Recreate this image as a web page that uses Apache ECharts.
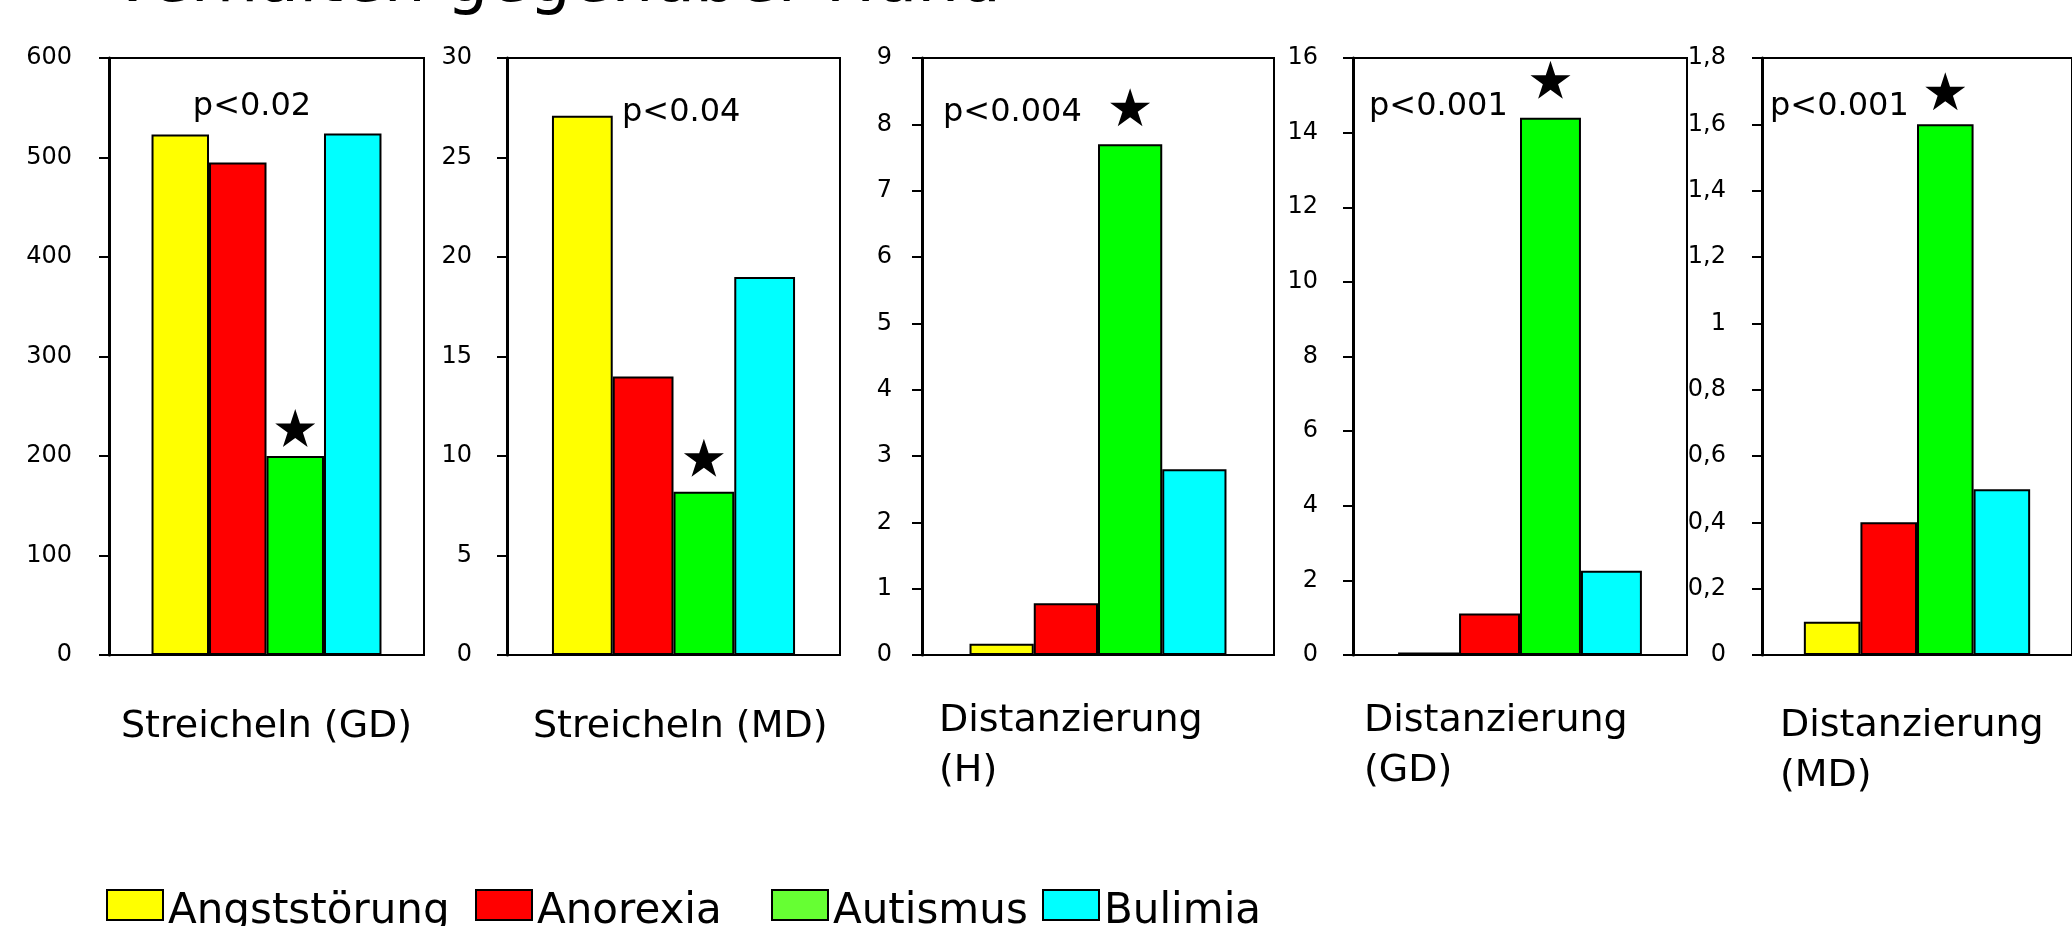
<!DOCTYPE html>
<html>
<head>
<meta charset="utf-8">
<script src="https://cdn.jsdelivr.net/npm/echarts@6/dist/echarts.min.js"></script>
<style>
html,body{margin:0;padding:0;background:#fff;}
#chart{width:2072px;height:926px;}
</style>
</head>
<body>
<div id="chart"></div>
<script>
// ---- data ----
const chartTitle = 'Verhalten gegenüber Hund';
const categories = ['Streicheln (GD)', 'Streicheln (MD)', 'Distanzierung\n(H)', 'Distanzierung\n(GD)', 'Distanzierung\n(MD)'];
const groups = ['Angststörung', 'Anorexia', 'Autismus', 'Bulimia'];
const angststoerung = [523, 27.1, 0.17, 0.07, 0.1];
const anorexia = [495, 14, 0.78, 1.11, 0.4];
const autismus = [200, 8.2, 7.7, 14.4, 1.6];
const bulimia = [524, 19, 2.8, 2.26, 0.5];
const yMax = [600, 30, 9, 16, 1.8];
const yStep = [100, 5, 1, 2, 0.2];
const pValues = ['p<0.02', 'p<0.04', 'p<0.004', 'p<0.001', 'p<0.001'];
const decimalComma = [false, false, false, false, true];

// ---- styles / layout ----
const FONT = 'DejaVu Sans';
const barColors = ['#FFFF00', '#FF0000', '#00FF00', '#00FFFF'];
const legendColors = ['#FFFF00', '#FF0000', '#66FF33', '#00FFFF'];
const legendLeft = [106, 475, 771, 1042];
const panels = [
  {left: 109, width: 315, margin: 37, labelX: 121, labelTop: 702, pX: 252, pAlign: 'center', pY: 107, star: 28},
  {left: 507, width: 333, margin: 35, labelX: 533, labelTop: 702, pX: 622, pAlign: 'left', pY: 113, star: 34},
  {left: 922, width: 352, margin: 30, labelX: 939, labelTop: 696, pX: 943, pAlign: 'left', pY: 113, star: 37},
  {left: 1353, width: 334, margin: 35, labelX: 1364, labelTop: 696, pX: 1369, pAlign: 'left', pY: 107, star: 38},
  {left: 1762, width: 324, margin: 36, labelX: 1780, labelTop: 701, pX: 1770, pAlign: 'left', pY: 107, star: 33}
];
const starPath = 'path://M100 0 L122.45 69.1 L195.1 69.1 L136.3 111.8 L158.8 180.9 L100 138.2 L41.2 180.9 L63.7 111.8 L4.9 69.1 L77.55 69.1 Z';
const seriesValues = [angststoerung, anorexia, autismus, bulimia];

const grids = [], xAxes = [], yAxes = [], series = [], graphics = [];
panels.forEach((p, i) => {
  grids.push({left: p.left, width: p.width, top: 58, height: 597, show: true,
    borderColor: '#000', borderWidth: 2, backgroundColor: 'transparent', containLabel: false});
  xAxes.push({type: 'category', gridIndex: i, data: [categories[i]],
    axisLine: {lineStyle: {color: '#000', width: 2}}, axisTick: {show: false},
    axisLabel: {show: false}, splitLine: {show: false}});
  yAxes.push({type: 'value', gridIndex: i, min: 0, max: yMax[i], interval: yStep[i],
    axisLine: {show: true, lineStyle: {color: '#000', width: 3}},
    axisTick: {show: true, length: 10, lineStyle: {color: '#000', width: 2}},
    splitLine: {show: false},
    axisLabel: {margin: p.margin, color: '#000', fontSize: 24, fontFamily: FONT, padding: [7, 0, 0, 0],
      formatter: v => {
        const s = String(Math.round(v * 1000) / 1000);
        return decimalComma[i] ? s.replace('.', ',') : s;
      }}});
  groups.forEach((g, k) => {
    const s = {
      type: 'bar', name: g, xAxisIndex: i, yAxisIndex: i,
      data: [seriesValues[k][i]],
      barGap: '0%', barCategoryGap: '27%',
      itemStyle: {color: barColors[k], borderColor: '#000', borderWidth: 2},
      emphasis: {disabled: true}
    };
    if (k === 2) {
      s.markPoint = {
        symbol: starPath, symbolSize: [40, 38], symbolOffset: [0, -p.star],
        itemStyle: {color: '#000'}, label: {show: false}, silent: true,
        data: [{coord: [0, seriesValues[k][i]]}]
      };
    }
    series.push(s);
  });
  graphics.push({type: 'text', left: p.labelX, top: p.labelTop, silent: true,
    style: {text: categories[i], font: '38px "' + FONT + '"', fill: '#000', lineHeight: 50}});
  graphics.push({type: 'text', x: p.pX, y: p.pY, silent: true,
    style: {text: pValues[i], font: '32px "' + FONT + '"', fill: '#000', align: p.pAlign, verticalAlign: 'middle'}});
});
graphics.push({type: 'text', x: 110, y: -16, silent: true,
  style: {text: chartTitle, font: '66px "' + FONT + '"', fill: '#000', align: 'left', verticalAlign: 'middle'}});

const legends = groups.map((g, k) => ({
  left: legendLeft[k], top: 877, itemWidth: 56, itemHeight: 30, itemGap: 0, padding: 0,
  icon: 'rect', selectedMode: false,
  data: [{name: g, itemStyle: {color: legendColors[k], borderColor: '#000', borderWidth: 2}}],
  formatter: '{t|{name}}',
  textStyle: {fontSize: 42, fontFamily: FONT, color: '#000',
    rich: {t: {fontSize: 42, fontFamily: FONT, color: '#000', lineHeight: 30, padding: [14, 0, 0, 0]}}}
}));

const chart = echarts.init(document.getElementById('chart'));
chart.setOption({
  animation: false,
  backgroundColor: '#fff',
  textStyle: {fontFamily: FONT},
  grid: grids, xAxis: xAxes, yAxis: yAxes, series: series,
  legend: legends, graphic: graphics
});
</script>
</body>
</html>
